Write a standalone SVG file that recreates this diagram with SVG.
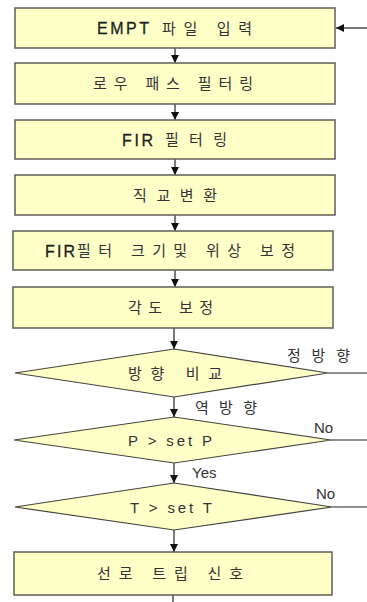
<svg xmlns="http://www.w3.org/2000/svg" width="367" height="602" viewBox="0 0 367 602">
  <defs>
    <marker id="arrow" viewBox="0 0 10 10" refX="10" refY="5" markerWidth="8" markerHeight="8" markerUnits="userSpaceOnUse" orient="auto">
      <path d="M0,0 L10,5 L0,10 Z" fill="#111"/>
    </marker>
    <style>
      .box { fill: #FFFFC8; stroke: #5f5f55; stroke-width: 1.5; }
      .dia { fill: #FFFFC8; stroke: #44443c; stroke-width: 1.2; }
      .lbl { font-family: "Liberation Sans", "Noto Sans CJK KR", sans-serif; font-size: 15px; fill: #333; text-anchor: middle; }
      .part { font-family: "Liberation Sans", "Noto Sans CJK KR", sans-serif; font-size: 15px; fill: #333; }
      .side { font-family: "Liberation Sans", "Noto Sans CJK KR", sans-serif; font-size: 15px; fill: #333; }
      .lat { font-family: "Liberation Sans", sans-serif; font-size: 16px; fill: #1e1e1e; stroke: #1e1e1e; stroke-width: 0.3; }
      .link { fill: none; stroke: #222; stroke-width: 1.2; }
    </style>
  </defs>
  <rect width="367" height="602" fill="#fff"/>

  <g id="connectors">
    <line class="link" x1="367" y1="28" x2="336" y2="28" marker-end="url(#arrow)"/>
    <line class="link" x1="175" y1="48" x2="175" y2="63" marker-end="url(#arrow)"/>
    <line class="link" x1="175" y1="104" x2="175" y2="120" marker-end="url(#arrow)"/>
    <line class="link" x1="175" y1="159" x2="175" y2="175" marker-end="url(#arrow)"/>
    <line class="link" x1="175" y1="215" x2="175" y2="231" marker-end="url(#arrow)"/>
    <line class="link" x1="175" y1="270" x2="175" y2="287" marker-end="url(#arrow)"/>
    <line class="link" x1="174" y1="328" x2="174" y2="349" marker-end="url(#arrow)"/>
    <line class="link" x1="174" y1="397" x2="174" y2="417" marker-end="url(#arrow)"/>
    <line class="link" x1="174" y1="463" x2="174" y2="483" marker-end="url(#arrow)"/>
    <line class="link" x1="174" y1="530" x2="174" y2="552" marker-end="url(#arrow)"/>
    <line class="link" x1="173" y1="595" x2="173" y2="602"/>
    <line class="link" x1="328" y1="373" x2="367" y2="373"/>
    <line class="link" x1="331" y1="440" x2="367" y2="440"/>
    <line class="link" x1="332" y1="507" x2="367" y2="507"/>
    <text class="side" x="287" y="361" textLength="63" lengthAdjust="spacing">정방향</text>
    <text class="side" x="195" y="413" textLength="62" lengthAdjust="spacing">역방향</text>
    <text class="side" x="314" y="433" font-size="16">No</text>
    <text class="side" x="192" y="478" font-size="15">Yes</text>
    <text class="side" x="316" y="499" font-size="16">No</text>
  </g>

  <g id="n1">
    <rect class="box" x="15" y="8" width="320" height="40"/>
    <text class="lat" x="97" y="34" textLength="52" lengthAdjust="spacing">EMPT</text>
    <text class="part" x="162" y="33.5" textLength="90" lengthAdjust="spacing">파일 입력</text>
  </g>
  <g id="n2">
    <rect class="box" x="15" y="63" width="320" height="41"/>
    <text class="lbl" x="173" y="89" textLength="160" lengthAdjust="spacing">로우 패스 필터링</text>
  </g>
  <g id="n3">
    <rect class="box" x="15" y="120" width="320" height="39"/>
    <text class="lat" x="122" y="145.5" textLength="31" lengthAdjust="spacing">FIR</text>
    <text class="part" x="165" y="145" textLength="62" lengthAdjust="spacing">필터링</text>
  </g>
  <g id="n4">
    <rect class="box" x="15" y="175" width="320" height="40"/>
    <text class="lbl" x="175" y="200.5" textLength="84" lengthAdjust="spacing">직교변환</text>
  </g>
  <g id="n5">
    <rect class="box" x="13" y="231" width="320" height="39"/>
    <text class="lat" x="45" y="256.5" textLength="30" lengthAdjust="spacing">FIR</text>
    <text class="part" x="77" y="256" textLength="218" lengthAdjust="spacing">필터 크기및 위상 보정</text>
  </g>
  <g id="n6">
    <rect class="box" x="13" y="287" width="320" height="41"/>
    <text class="lbl" x="170.5" y="313" textLength="85" lengthAdjust="spacing">각도 보정</text>
  </g>
  <g id="n7">
    <polygon class="dia" points="174,349 328,373 174,397 15,373"/>
    <text class="lbl" x="175" y="378.5" textLength="94" lengthAdjust="spacing">방향 비교</text>
  </g>
  <g id="n8">
    <polygon class="dia" points="174,417 331,440 174,463 14,440"/>
    <text class="lbl" x="170" y="445.5" textLength="84" lengthAdjust="spacing">P &gt; set P</text>
  </g>
  <g id="n9">
    <polygon class="dia" points="174,483 332,507 174,530 15,507"/>
    <text class="lbl" x="171" y="512.5" textLength="82" lengthAdjust="spacing">T &gt; set T</text>
  </g>
  <g id="n10">
    <rect class="box" x="14" y="552" width="318" height="43"/>
    <text class="lbl" x="170" y="578.5" textLength="146" lengthAdjust="spacing">선로 트립 신호</text>
  </g>
</svg>
